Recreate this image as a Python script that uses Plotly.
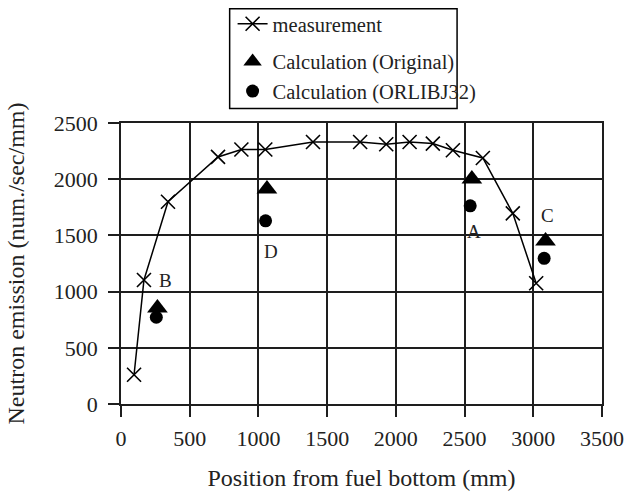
import plotly.graph_objects as go

# Data
meas_x = [95, 167, 342, 706, 876, 1050, 1397, 1740, 1930, 2100, 2269, 2415, 2633, 2851, 3021]
meas_y = [260, 1103, 1799, 2198, 2264, 2264, 2331, 2331, 2311, 2331, 2317, 2258, 2189, 1696, 1074]

orig_x = [265, 1062, 2553, 3089]
orig_y = [853, 1912, 2001, 1450]

orlib_x = [257, 1052, 2541, 3079]
orlib_y = [772, 1630, 1763, 1296]

label_text = ["B", "D", "A", "C"]
label_x = [325, 1094, 2572, 3106]
label_y = [1097, 1355, 1532, 1680]

FONT = "Liberation Serif, Times New Roman, serif"
GRID = "#1e1e1e"

fig = go.Figure()
fig.add_trace(go.Scatter(
    x=meas_x, y=meas_y, mode="lines+markers", name="measurement",
    legendgroup="m",
    line=dict(color="black", width=1.5),
    marker=dict(symbol="x-thin", size=14, line=dict(color="black", width=1.6)),
))
fig.add_trace(go.Scatter(
    x=orig_x, y=orig_y, mode="markers", name="Calculation (Original)",
    legendgroup="c",
    marker=dict(symbol="triangle-up", size=18, color="black"),
))
fig.add_trace(go.Scatter(
    x=orlib_x, y=orlib_y, mode="markers", name="Calculation (ORLIBJ32)",
    legendgroup="c",
    marker=dict(symbol="circle", size=13, color="black"),
))

for t, xx, yy in zip(label_text, label_x, label_y):
    fig.add_annotation(x=xx, y=yy, text=t, showarrow=False,
                       font=dict(family=FONT, size=19, color="#222"))

axis_common = dict(
    showgrid=True, gridcolor=GRID, gridwidth=1.6,
    showline=True, linecolor=GRID, linewidth=1.6, mirror=True,
    ticks="outside", ticklen=11, tickwidth=1.6, tickcolor=GRID,
    zeroline=False, automargin=False,
    tickfont=dict(family=FONT, size=22, color="#222"),
)

fig.update_xaxes(range=[0, 3500], dtick=500, tick0=0, ticklabelstandoff=3,
                 title=dict(text="Position from fuel bottom (mm)",
                            font=dict(family=FONT, size=24, color="#222"), standoff=19),
                 **axis_common)
fig.update_yaxes(range=[0, 2500], dtick=500, tick0=0, ticklabelstandoff=6,
                 title=dict(text="Neutron emission (num./sec/mm)",
                            font=dict(family=FONT, size=24, color="#222"), standoff=22),
                 **axis_common)

# legend frame drawn as a paper-referenced rectangle
fig.add_shape(type="rect", xref="paper", yref="paper",
              x0=0.2259, x1=0.6987, y0=1.052, y1=1.407,
              line=dict(color="black", width=1.5), fillcolor="rgba(0,0,0,0)")

fig.update_layout(
    width=643, height=493,
    margin=dict(l=121, r=41, t=123, b=89),
    paper_bgcolor="white", plot_bgcolor="white",
    showlegend=True,
    legend=dict(
        xref="paper", yref="container",
        x=0.232, y=0.992, xanchor="left", yanchor="top",
        borderwidth=0,
        font=dict(family=FONT, size=20.5, color="#222"),
        bgcolor="rgba(0,0,0,0)", tracegroupgap=8, itemwidth=30,
    ),
)

fig.write_html("out.html")
